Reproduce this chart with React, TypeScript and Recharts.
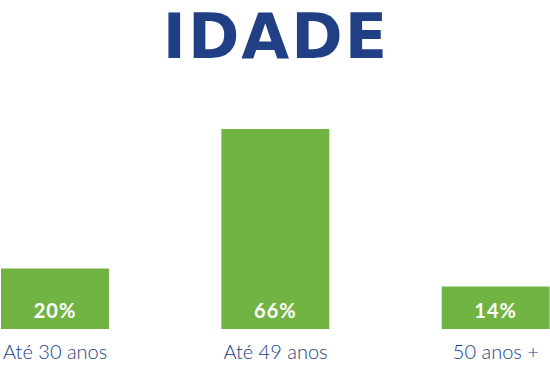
import { BarChart, Bar, XAxis, YAxis, LabelList } from 'recharts';

const categories = ['Até 30 anos', 'Até 49 anos', '50 anos +'];
const shares = [20, 66, 14];

const data = categories.map((name, i) => ({ name, value: shares[i] }));

const BLUE = '#213f84';
const GREEN = '#72b443';

export default function App() {
  return (
    <div style={{ position: 'absolute', left: 0, top: 0, width: 550, height: 367, overflow: 'hidden', background: '#fff' }}>
      <svg width={550} height={100} style={{ position: 'absolute', left: 0, top: 0 }}>
        <text
          x={276}
          y={58}
          textAnchor="middle"
          fill={BLUE}
          fontFamily="'DejaVu Sans', sans-serif"
          fontWeight={700}
          fontSize={62}
          letterSpacing={2}
        >
          IDADE
        </text>
      </svg>
      <div style={{ position: 'absolute', left: -55, top: 0 }}>
        <BarChart width={661} height={367} data={data} margin={{ top: 129, right: 0, bottom: 0, left: 0 }}>
          <YAxis hide domain={[0, 66]} />
          <XAxis
            dataKey="name"
            axisLine={false}
            tickLine={false}
            height={38}
            interval={0}
            tick={{ fill: BLUE, fontFamily: 'Lato, sans-serif', fontWeight: 300, fontSize: 20 }}
            dy={8}
          />
          <Bar dataKey="value" fill={GREEN} barSize={108} isAnimationActive={false}>
            <LabelList
              dataKey="value"
              position="insideBottom"
              offset={11}
              formatter={(v: number) => `${v}%`}
              fill="#fff"
              fontFamily="Lato, sans-serif"
              fontWeight={700}
              fontSize={20}
              letterSpacing={1}
            />
          </Bar>
        </BarChart>
      </div>
    </div>
  );
}
